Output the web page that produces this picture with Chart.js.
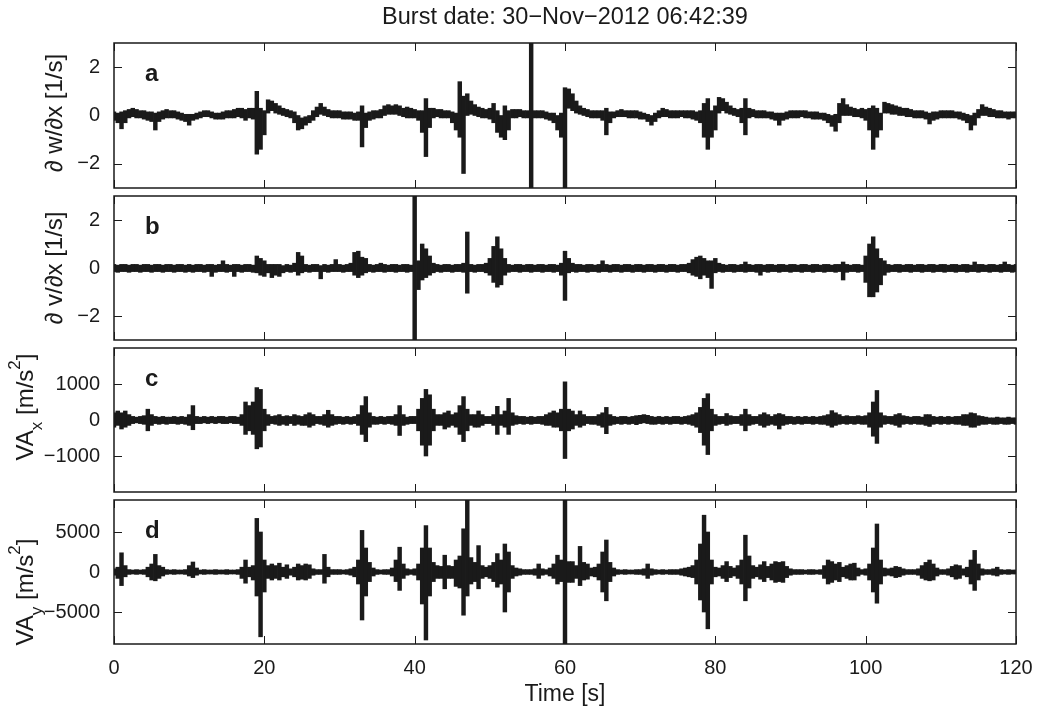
<!DOCTYPE html>
<html>
<head>
<meta charset="utf-8">
<script src="https://cdn.jsdelivr.net/npm/chart.js@4.4.1/dist/chart.umd.min.js"></script>
<style>
  html, body { margin: 0; padding: 0; background: #fff; }
  #wrap { position: relative; width: 1041px; height: 722px; }
  #wrap canvas { position: absolute; left: 0; top: 0; }
</style>
</head>
<body>
<div id="wrap">
  <canvas id="panelA" width="1041" height="722"></canvas>
  <canvas id="panelB" width="1041" height="722"></canvas>
  <canvas id="panelC" width="1041" height="722"></canvas>
  <canvas id="panelD" width="1041" height="722"></canvas>
</div>
<script>
// samples every 0.5 s, upper / lower envelope of the trace
var timeStep = 0.5;
var xTicks = [0, 20, 40, 60, 80, 100, 120];
var ticksAB = [-2, 0, 2];
var ticksC = [-1000, 0, 1000];
var ticksD = [-5000, 0, 5000];

// a) dw/dx [1/s]
var aHi = [
  0.15,0.1,0.15,0.2,0.25,0.3,0.25,0.2,0.2,0.15, 0.15,0.1,0.15,0.2,0.25,0.2,0.2,0.15,0.1,0.05,
  0.05,0.05,0.1,0.15,0.2,0.2,0.15,0.1,0.1,0.15, 0.2,0.2,0.25,0.3,0.3,0.25,0.3,0.3,1.0,0.3,
  0.2,0.65,0.6,0.5,0.4,0.3,0.25,0.2,0.15,0.0, -0.1,-0.05,0.0,0.2,0.35,0.5,0.35,0.25,0.2,0.2,
  0.2,0.15,0.15,0.15,0.1,0.15,0.4,0.1,0.15,0.2, 0.2,0.25,0.4,0.45,0.4,0.45,0.4,0.3,0.35,0.3,
  0.25,0.2,0.2,0.7,0.3,0.3,0.25,0.25,0.2,0.2, 0.15,0.1,1.4,0.8,0.9,0.6,0.45,0.35,0.3,0.25,
  0.3,0.5,0.2,0.0,0.4,0.2,0.25,0.25,0.25,0.2, 0.2,3.5,0.2,0.2,0.2,0.15,0.1,0.1,0.0,0.1,
  1.15,1.1,0.9,0.6,0.4,0.3,0.25,0.2,0.2,0.2, 0.2,0.3,0.15,0.15,0.2,0.25,0.2,0.2,0.2,0.2,
  0.15,0.1,0.05,0.0,0.1,0.2,0.3,0.25,0.2,0.2, 0.2,0.2,0.2,0.2,0.2,0.15,0.2,0.5,0.7,0.2,
  0.4,0.75,0.7,0.55,0.4,0.3,0.25,0.3,0.7,0.3, 0.25,0.2,0.2,0.2,0.15,0.15,0.1,0.1,0.1,0.15,
  0.2,0.2,0.2,0.2,0.2,0.15,0.15,0.15,0.1,0.1, 0.05,0.0,0.05,0.5,0.7,0.45,0.35,0.3,0.25,0.3,
  0.25,0.3,0.4,0.3,0.1,0.55,0.5,0.45,0.4,0.35, 0.3,0.3,0.25,0.2,0.2,0.2,0.15,0.1,0.15,0.15,
  0.2,0.2,0.2,0.2,0.15,0.15,0.1,0.05,0.0,0.1, 0.25,0.45,0.35,0.3,0.25,0.2,0.2,0.15,0.15,0.15,0.15
];
var aLo = [
  -0.2,-0.3,-0.55,-0.3,-0.1,-0.05,-0.1,-0.1,-0.15,-0.2, -0.25,-0.6,-0.25,-0.15,-0.1,-0.1,-0.1,-0.15,-0.2,-0.25,
  -0.4,-0.2,-0.15,-0.1,-0.05,-0.05,-0.1,-0.15,-0.15,-0.15, -0.1,-0.1,-0.1,-0.05,-0.1,-0.2,-0.1,-0.15,-1.6,-1.4,
  -0.8,0.1,0.2,0.1,0.05,0.0,-0.05,-0.1,-0.3,-0.6, -0.55,-0.4,-0.3,-0.2,-0.05,0.05,0.0,-0.05,-0.1,-0.1,
  -0.1,-0.15,-0.15,-0.15,-0.2,-0.2,-1.3,-0.5,-0.2,-0.15, -0.1,-0.1,0.0,0.05,0.05,0.05,0.0,-0.05,-0.1,-0.1,
  -0.1,-0.2,-0.7,-1.7,-0.5,-0.1,-0.05,-0.1,-0.1,-0.1, -0.3,-0.6,-0.9,-2.4,0.0,0.05,0.0,-0.05,-0.1,-0.1,
  -0.15,-0.3,-0.7,-0.9,-1.0,-0.6,-0.1,-0.1,-0.05,-0.1, -0.1,-3.5,-0.1,-0.1,-0.1,-0.15,-0.2,-0.3,-0.6,-0.9,
  -3.5,0.3,0.2,0.1,0.05,0.0,-0.05,-0.1,-0.1,-0.1, -0.2,-0.8,-0.3,-0.1,-0.05,-0.05,-0.05,-0.1,-0.1,-0.1,
  -0.15,-0.15,-0.25,-0.4,-0.25,-0.1,-0.05,-0.05,-0.1,-0.1, -0.1,-0.05,-0.1,-0.1,-0.15,-0.2,-0.3,-0.9,-1.4,-0.9,
  -0.6,0.1,0.2,0.1,0.05,0.0,-0.05,-0.3,-0.8,-0.1, -0.05,-0.1,-0.1,-0.1,-0.1,-0.15,-0.2,-0.4,-0.2,-0.15,
  -0.1,-0.1,-0.1,-0.05,-0.1,-0.1,-0.15,-0.15,-0.15,-0.2, -0.3,-0.45,-0.65,-0.3,0.0,0.0,0.0,-0.05,-0.05,-0.1,
  -0.2,-0.6,-1.4,-0.9,-0.6,0.1,0.1,0.05,0.05,0.0, 0.0,-0.05,-0.05,-0.1,-0.1,-0.1,-0.15,-0.35,-0.2,-0.15,
  -0.1,-0.1,-0.1,-0.1,-0.1,-0.15,-0.2,-0.3,-0.6,-0.4, -0.1,0.0,0.0,-0.05,-0.05,-0.1,-0.1,-0.1,-0.15,-0.1,-0.1
];

// b) dv/dx [1/s]
var bHi = [
  0.15,0.12,0.15,0.15,0.12,0.15,0.15,0.12,0.15,0.15, 0.12,0.15,0.15,0.12,0.15,0.15,0.12,0.15,0.15,0.12,
  0.15,0.12,0.15,0.15,0.12,0.15,0.15,0.12,0.15,0.3, 0.15,0.12,0.15,0.15,0.12,0.15,0.15,0.12,0.5,0.4,
  0.3,0.15,0.15,0.15,0.15,0.1,0.15,0.12,0.2,0.65, 0.5,0.15,0.12,0.15,0.15,0.1,0.15,0.12,0.15,0.35,
  0.15,0.12,0.15,0.2,0.65,0.7,0.45,0.4,0.15,0.12, 0.15,0.2,0.15,0.12,0.15,0.15,0.12,0.15,0.15,0.12,
  3.5,0.3,1.0,0.8,0.5,0.2,0.15,0.12,0.15,0.15, 0.12,0.15,0.15,0.2,1.5,0.15,0.12,0.15,0.15,0.2,
  0.4,0.9,1.3,0.8,0.4,0.15,0.12,0.15,0.15,0.12, 0.15,0.15,0.12,0.15,0.15,0.12,0.15,0.15,0.12,0.2,
  0.7,0.4,0.2,0.15,0.15,0.12,0.15,0.15,0.12,0.15, 0.3,0.15,0.12,0.15,0.15,0.12,0.15,0.15,0.12,0.15,
  0.15,0.12,0.15,0.15,0.12,0.15,0.15,0.12,0.15,0.15, 0.12,0.15,0.15,0.2,0.35,0.45,0.5,0.4,0.3,0.3,
  0.4,0.2,0.15,0.12,0.15,0.15,0.12,0.15,0.25,0.15, 0.12,0.15,0.15,0.12,0.15,0.15,0.12,0.15,0.15,0.12,
  0.15,0.15,0.12,0.15,0.15,0.12,0.15,0.15,0.12,0.15, 0.15,0.12,0.15,0.15,0.25,0.15,0.12,0.15,0.15,0.12,
  0.5,1.0,1.3,0.8,0.4,0.3,0.15,0.12,0.15,0.15, 0.12,0.15,0.15,0.12,0.15,0.15,0.12,0.15,0.15,0.12,
  0.15,0.15,0.12,0.15,0.15,0.12,0.15,0.15,0.12,0.25, 0.15,0.15,0.12,0.15,0.15,0.12,0.15,0.25,0.15,0.12,0.15
];
var bLo = [
  -0.15,-0.18,-0.15,-0.15,-0.18,-0.15,-0.15,-0.18,-0.15,-0.15, -0.18,-0.15,-0.15,-0.18,-0.15,-0.15,-0.18,-0.15,-0.15,-0.18,
  -0.15,-0.18,-0.15,-0.15,-0.18,-0.15,-0.35,-0.18,-0.15,-0.15, -0.18,-0.15,-0.35,-0.15,-0.18,-0.15,-0.15,-0.18,-0.2,-0.3,
  -0.35,-0.2,-0.4,-0.3,-0.35,-0.2,-0.15,-0.18,-0.15,-0.3, -0.2,-0.15,-0.18,-0.15,-0.15,-0.45,-0.15,-0.18,-0.15,-0.15,
  -0.15,-0.18,-0.15,-0.15,-0.3,-0.4,-0.3,-0.2,-0.15,-0.18, -0.15,-0.15,-0.18,-0.15,-0.15,-0.18,-0.15,-0.15,-0.18,-0.15,
  -3.5,-0.9,-0.5,-0.4,-0.3,-0.2,-0.15,-0.18,-0.15,-0.15, -0.18,-0.15,-0.15,-0.18,-1.05,-0.15,-0.18,-0.15,-0.15,-0.2,
  -0.3,-0.6,-0.8,-0.7,-0.3,-0.18,-0.15,-0.15,-0.18,-0.15, -0.15,-0.18,-0.15,-0.15,-0.18,-0.15,-0.15,-0.18,-0.15,-0.3,
  -1.35,-0.2,-0.15,-0.18,-0.15,-0.15,-0.18,-0.15,-0.15,-0.18, -0.15,-0.15,-0.18,-0.15,-0.15,-0.18,-0.15,-0.15,-0.18,-0.15,
  -0.15,-0.18,-0.15,-0.15,-0.18,-0.15,-0.15,-0.18,-0.15,-0.15, -0.18,-0.15,-0.15,-0.2,-0.3,-0.35,-0.45,-0.3,-0.4,-0.85,
  -0.2,-0.15,-0.18,-0.15,-0.15,-0.18,-0.15,-0.15,-0.18,-0.15, -0.15,-0.18,-0.3,-0.15,-0.18,-0.15,-0.15,-0.18,-0.15,-0.15,
  -0.18,-0.15,-0.15,-0.18,-0.15,-0.15,-0.18,-0.15,-0.15,-0.18, -0.15,-0.15,-0.18,-0.15,-0.5,-0.18,-0.15,-0.15,-0.18,-0.15,
  -0.6,-1.2,-1.2,-1.0,-0.7,-0.3,-0.18,-0.15,-0.15,-0.18, -0.15,-0.15,-0.18,-0.15,-0.15,-0.18,-0.15,-0.15,-0.18,-0.15,
  -0.15,-0.18,-0.15,-0.15,-0.18,-0.15,-0.15,-0.18,-0.15,-0.15, -0.18,-0.15,-0.15,-0.18,-0.15,-0.15,-0.18,-0.15,-0.15,-0.18,-0.15
];

// c) VA_x [m/s^2]
var cHi = [
  200,250,200,250,150,100,80,100,120,300, 150,100,80,100,80,80,100,80,100,80,
  150,400,100,80,100,80,100,80,100,100, 80,100,100,80,150,500,400,500,900,850,
  300,150,100,120,150,100,120,100,150,120, 100,150,200,150,100,100,150,270,150,100,
  100,80,100,80,100,150,400,650,200,100, 80,100,80,100,100,150,400,150,80,100,
  100,300,600,850,700,300,150,150,200,250, 150,200,400,650,300,150,150,250,150,100,
  100,150,380,150,250,600,200,120,100,100, 80,100,80,100,100,150,200,250,200,300,
  1060,300,250,150,250,150,100,100,100,150, 200,350,150,100,80,100,100,80,100,120,
  130,150,130,100,80,100,80,100,80,100, 100,80,100,120,150,200,350,600,730,300,
  150,100,100,180,120,100,100,150,300,150, 100,100,150,200,150,100,150,180,150,100,
  100,80,100,80,100,80,100,80,100,120, 150,260,200,150,100,120,100,100,120,100,
  120,200,500,820,200,120,100,100,150,180, 120,100,80,100,100,80,150,150,100,80,
  100,80,100,80,100,100,150,150,200,180, 120,100,80,60,60,80,60,60,80,60,60
];
var cLo = [
  -200,-150,-250,-200,-150,-100,-80,-100,-120,-300, -150,-100,-120,-100,-120,-100,-100,-120,-100,-120,
  -150,-270,-100,-100,-80,-100,-80,-100,-80,-100, -100,-80,-100,-100,-150,-400,-300,-400,-800,-750,
  -300,-150,-100,-120,-150,-120,-150,-100,-150,-120, -150,-150,-200,-150,-100,-120,-150,-200,-150,-120,
  -100,-120,-100,-120,-100,-150,-400,-600,-200,-120, -120,-100,-120,-100,-120,-150,-430,-150,-120,-100,
  -100,-300,-700,-1000,-700,-300,-150,-150,-250,-200, -150,-200,-400,-600,-300,-150,-200,-200,-150,-100,
  -100,-150,-400,-150,-200,-400,-150,-120,-100,-120, -100,-120,-100,-100,-120,-150,-150,-200,-200,-300,
  -1070,-300,-250,-150,-200,-150,-100,-120,-120,-150, -200,-380,-150,-120,-100,-120,-100,-120,-100,-130,
  -100,-80,-100,-120,-120,-100,-120,-100,-120,-100, -100,-120,-100,-120,-150,-200,-350,-700,-960,-300,
  -150,-120,-100,-150,-120,-100,-100,-150,-300,-150, -120,-100,-150,-200,-150,-120,-150,-250,-150,-120,
  -100,-120,-100,-120,-100,-100,-120,-100,-120,-120, -150,-200,-150,-120,-100,-120,-100,-120,-100,-120,
  -120,-200,-450,-650,-200,-120,-100,-120,-150,-200, -120,-100,-120,-100,-120,-120,-150,-180,-120,-100,
  -120,-100,-120,-100,-120,-120,-150,-150,-200,-200, -150,-120,-120,-100,-120,-120,-100,-120,-120,-100,-120
];

// d) VA_y [m/s^2]
var dHi = [
  400,600,2400,800,300,250,300,250,300,600, 1000,2200,800,600,300,250,300,250,250,300,
  800,1250,500,250,300,250,250,300,250,250, 300,250,250,300,600,1500,600,800,6700,5000,
  1500,800,1000,800,1100,600,900,400,600,1000, 800,1000,900,400,300,300,2200,600,300,300,
  300,250,300,400,600,1500,5200,3000,1200,500, 300,250,300,300,500,1500,3100,1000,400,300,
  400,1000,3000,5800,3000,1200,800,700,2100,800, 700,1500,2000,5400,9500,1800,1200,3300,800,600,
  800,1200,2300,1500,3500,2500,800,500,400,300, 300,300,400,1000,400,300,500,1000,2100,1500,
  9500,1300,1300,800,3200,1200,1000,500,600,1000, 2500,4000,1200,500,300,250,300,250,250,300,
  300,400,1000,400,300,250,300,250,300,300, 300,400,500,600,800,1500,3500,7100,5000,1500,
  600,500,800,1300,700,500,800,1500,4600,2000, 800,600,900,1300,700,1000,1300,1200,1300,700,
  400,300,300,300,250,300,300,250,300,800, 1500,1300,1000,1200,600,800,1000,1100,500,300,
  400,1000,3000,6000,1500,500,400,500,700,600, 400,300,300,300,400,800,1200,1500,1000,500,
  300,300,400,700,900,800,400,600,1500,2700, 1000,400,300,300,400,600,300,250,300,250,250
];
var dLo = [
  -400,-800,-1700,-600,-300,-250,-300,-250,-300,-600, -1000,-1100,-800,-500,-300,-250,-300,-250,-250,-300,
  -500,-700,-400,-250,-300,-250,-250,-300,-250,-250, -300,-250,-250,-300,-800,-1400,-600,-1000,-3000,-8100,
  -2500,-800,-1000,-800,-1000,-600,-800,-400,-600,-1000, -900,-1000,-800,-400,-300,-300,-1400,-600,-300,-300,
  -300,-250,-300,-400,-600,-1500,-6000,-3000,-1200,-500, -300,-250,-300,-300,-500,-1200,-2300,-800,-400,-300,
  -400,-1000,-4000,-8500,-3000,-1200,-800,-800,-2100,-800, -800,-1800,-2000,-5400,-3000,-1500,-1200,-2100,-800,-600,
  -800,-1200,-1900,-1500,-5000,-2500,-800,-500,-400,-300, -300,-300,-400,-800,-400,-300,-500,-800,-1500,-1200,
  -9500,-1300,-1300,-800,-1700,-1000,-900,-500,-600,-1000, -2500,-3600,-1200,-500,-300,-250,-300,-250,-250,-300,
  -300,-400,-800,-400,-300,-250,-300,-250,-300,-300, -300,-400,-500,-600,-700,-1500,-3500,-5000,-7100,-1500,
  -600,-500,-800,-1200,-700,-500,-800,-1500,-3600,-2000, -800,-600,-900,-1200,-700,-1000,-1300,-1200,-1300,-700,
  -400,-300,-300,-300,-250,-300,-300,-250,-300,-800, -1500,-1300,-1000,-1200,-600,-800,-1000,-1000,-500,-300,
  -400,-1000,-2500,-3900,-1500,-500,-400,-500,-700,-600, -400,-300,-300,-300,-400,-800,-1000,-1100,-1000,-500,
  -300,-300,-400,-600,-900,-800,-400,-600,-1500,-2300, -1000,-400,-300,-300,-400,-500,-300,-250,-300,-250,-250
];

var FONT = "'Liberation Sans', Arial, Helvetica, sans-serif";
var INK = '#1a1a1a';
var PLOT_LEFT = 114, PLOT_RIGHT = 1016, PAGE_W = 1041, PAGE_H = 722;

// one floating bar per sample, spanning the trace from its low to its high value
function envelope(hi, lo) {
    return hi.map(function(h, i) {
        return { x: i * timeStep, y: [lo[i], h] };
    });
}

function minusSign(v) { return String(v).replace('-', '\u2212'); }

function drawRotatedLabel(ctx, parts, baseX, centerY) {
    ctx.save();
    ctx.translate(baseX, centerY);
    ctx.rotate(-Math.PI / 2);
    ctx.fillStyle = INK;
    ctx.textBaseline = 'alphabetic';
    ctx.textAlign = 'left';
    var total = 0;
    parts.forEach(function(p) {
        ctx.font = (p.sub || p.sup ? '17px ' : '24px ') + FONT;
        p.w = ctx.measureText(p.text).width;
        total += p.w;
    });
    var x = -total / 2;
    parts.forEach(function(p) {
        ctx.font = (p.sub || p.sup ? '17px ' : '24px ') + FONT;
        var dy = p.sub ? 9 : (p.sup ? -13 : 0);
        ctx.fillText(p.text, x, dy);
        x += p.w;
    });
    ctx.restore();
}

// box, inward ticks on all four sides, panel letter and y label
var matlabFrame = {
    id: 'matlabFrame',
    afterDraw: function(chart, args, opts) {
        var a = chart.chartArea, ctx = chart.ctx;
        var xs = chart.scales.x, ys = chart.scales.y;
        ctx.save();
        ctx.strokeStyle = INK;
        ctx.lineWidth = 1;
        ctx.beginPath();
        xTicks.forEach(function(v) {
            var px = Math.round(xs.getPixelForValue(v)) + 0.5;
            ctx.moveTo(px, a.bottom); ctx.lineTo(px, a.bottom - 8);
            ctx.moveTo(px, a.top); ctx.lineTo(px, a.top + 8);
        });
        opts.yTicks.forEach(function(v) {
            var py = Math.round(ys.getPixelForValue(v)) + 0.5;
            ctx.moveTo(a.left, py); ctx.lineTo(a.left + 8, py);
            ctx.moveTo(a.right, py); ctx.lineTo(a.right - 8, py);
        });
        ctx.stroke();
        ctx.lineWidth = 1.5;
        ctx.strokeRect(a.left, a.top, a.right - a.left, a.bottom - a.top);

        ctx.fillStyle = INK;
        ctx.font = 'bold 24px ' + FONT;
        ctx.textAlign = 'left';
        ctx.textBaseline = 'alphabetic';
        ctx.fillText(opts.letter, a.left + 31, a.top + 38);
        ctx.restore();

        drawRotatedLabel(ctx, opts.label, opts.labelX, opts.labelY);
    }
};

function makePanel(id, p) {
    return new Chart(document.getElementById(id), {
        type: 'bar',
        data: {
            datasets: [{
                data: envelope(p.hi, p.lo),
                backgroundColor: INK,
                borderWidth: 0,
                barThickness: 3.8,
                grouped: false,
                clip: 0
            }]
        },
        options: {
            responsive: false,
            animation: false,
            devicePixelRatio: 1,
            events: [],
            layout: { padding: { left: 0, right: PAGE_W - PLOT_RIGHT, top: p.padTop, bottom: 0 } },
            plugins: {
                legend: { display: false },
                tooltip: { enabled: false },
                title: p.title || { display: false },
                matlabFrame: { letter: p.letter, yTicks: p.yTicks, label: p.label, labelX: p.labelX, labelY: p.labelY }
            },
            scales: {
                x: {
                    type: 'linear',
                    min: 0,
                    max: 120,
                    offset: false,
                    // invisible tick marks only push the labels down; padding stays 0 so the box is not narrowed
                    grid: { display: false, drawTicks: true, tickLength: 12, offset: false },
                    border: { display: false },
                    afterBuildTicks: function(s) { s.ticks = xTicks.map(function(v) { return { value: v }; }); },
                    ticks: { display: !!p.showX, padding: 0, font: { family: FONT, size: 20 }, color: INK },
                    title: p.xTitle || { display: false },
                    afterFit: function(s) { s.height = PAGE_H - p.bottom; }
                },
                y: {
                    type: 'linear',
                    min: p.min,
                    max: p.max,
                    grid: { display: false, drawTicks: false },
                    border: { display: false },
                    afterBuildTicks: function(s) { s.ticks = p.yTicks.map(function(v) { return { value: v }; }); },
                    ticks: { padding: 14, font: { family: FONT, size: 20 }, color: INK, callback: minusSign },
                    afterFit: function(s) { s.width = PLOT_LEFT; }
                }
            }
        },
        plugins: [matlabFrame]
    });
}

makePanel('panelA', {
    hi: aHi, lo: aLo, min: -3, max: 3, yTicks: ticksAB, padTop: 0, bottom: 188, letter: 'a',
    label: [{ text: '\u2202 w/\u2202x [1/s]' }], labelX: 62, labelY: 113,
    title: {
        display: true,
        text: 'Burst date: 30\u2212Nov\u22122012 06:42:39',
        font: { family: FONT, size: 23.5, weight: 'normal' },
        color: INK,
        fullSize: false,
        padding: { top: 3, bottom: 11.8 }
    }
});
makePanel('panelB', {
    hi: bHi, lo: bLo, min: -3, max: 3, yTicks: ticksAB, padTop: 196, bottom: 340, letter: 'b',
    label: [{ text: '\u2202 v/\u2202x [1/s]' }], labelX: 62, labelY: 268
});
makePanel('panelC', {
    hi: cHi, lo: cLo, min: -2000, max: 2000, yTicks: ticksC, padTop: 348, bottom: 492, letter: 'c',
    label: [{ text: 'VA' }, { text: 'x', sub: true }, { text: ' [m/s' }, { text: '2', sup: true }, { text: ']' }],
    labelX: 33, labelY: 407
});
makePanel('panelD', {
    hi: dHi, lo: dLo, min: -9000, max: 9000, yTicks: ticksD, padTop: 500, bottom: 644, letter: 'd',
    label: [{ text: 'VA' }, { text: 'y', sub: true }, { text: ' [m/s' }, { text: '2', sup: true }, { text: ']' }],
    labelX: 33, labelY: 592, showX: true,
    xTitle: { display: true, text: 'Time [s]', font: { family: FONT, size: 23 }, color: INK, padding: { top: 0, bottom: 14 } }
});
</script>
</body>
</html>
